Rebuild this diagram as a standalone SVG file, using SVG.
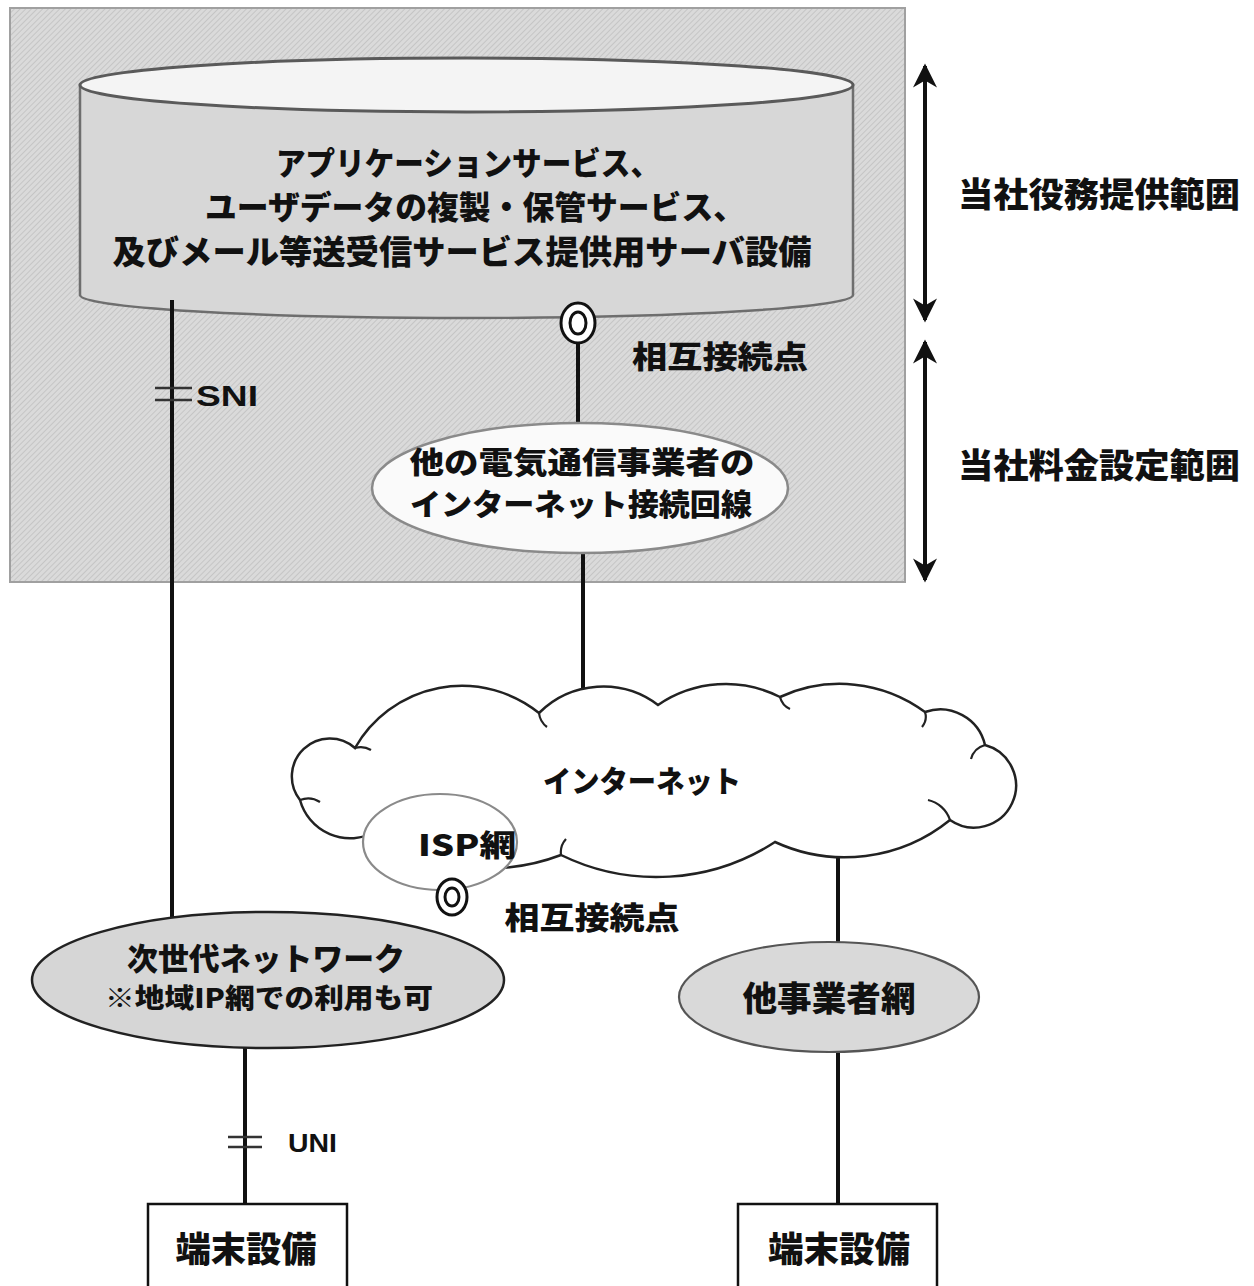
<svg xmlns="http://www.w3.org/2000/svg" width="1254" height="1286" viewBox="0 0 1254 1286">
<defs>
<pattern id="hatch" width="4" height="4" patternUnits="userSpaceOnUse" patternTransform="rotate(45)">
<rect width="4" height="4" fill="#dadada"/>
<line x1="0" y1="0" x2="0" y2="4" stroke="#bcbcbc" stroke-width="1.4"/>
</pattern>
<marker id="ah" viewBox="0 0 10 10" refX="9" refY="5" markerUnits="userSpaceOnUse" markerWidth="26" markerHeight="24" orient="auto-start-reverse">
<path d="M0,0 L10,5 L0,10 L3,5 Z" fill="#111"/>
</marker>
<style>
.t{font-family:"Noto Sans CJK JP","Noto Sans CJK SC",sans-serif;font-weight:900;fill:#111;text-anchor:middle}
.l{font-family:"Liberation Sans",Arial,sans-serif;font-weight:bold;fill:#111}
.ln{stroke:#111;stroke-width:4;fill:none}
.tick{stroke:#333;stroke-width:2.5}
.cp{fill:#fff;stroke:#111;stroke-width:3}
.box{fill:#fff;stroke:#111;stroke-width:2.5}
</style>
</defs>

<g id="scope-area">
<rect x="10" y="8" width="895" height="574" fill="url(#hatch)" stroke="#a0a0a0" stroke-width="2"/>
</g>

<g id="server">
<path d="M80,85 V295 A386.5,23 0 0 0 853,295 V85 Z" fill="#d7d7d7" stroke="#6e6e6e" stroke-width="2.5"/>
<ellipse cx="466.5" cy="85" rx="386.5" ry="27" fill="#f4f4f4" stroke="#5a5a5a" stroke-width="3"/>
<text class="t" x="468" y="175" font-size="32" textLength="384" lengthAdjust="spacingAndGlyphs">アプリケーションサービス、</text>
<text class="t" x="475" y="219" font-size="32" textLength="540" lengthAdjust="spacingAndGlyphs">ユーザデータの複製・保管サービス、</text>
<text class="t" x="462" y="264" font-size="33" textLength="699" lengthAdjust="spacingAndGlyphs">及びメール等送受信サービス提供用サーバ設備</text>
</g>

<g id="connectors">
<line class="ln" x1="172" y1="300" x2="172" y2="918"/>
<line class="tick" x1="155" y1="388" x2="192" y2="388"/>
<line class="tick" x1="155" y1="400" x2="192" y2="400"/>
<line class="ln" x1="578" y1="340" x2="578" y2="425"/>
<line class="ln" x1="583" y1="552" x2="583" y2="688"/>
<line class="ln" x1="838" y1="846" x2="838" y2="945"/>
<line class="ln" x1="838" y1="1050" x2="838" y2="1204"/>
<line class="ln" x1="245" y1="1046" x2="245" y2="1204"/>
<line class="tick" x1="228" y1="1137" x2="262" y2="1137"/>
<line class="tick" x1="228" y1="1147" x2="262" y2="1147"/>
<line stroke="#111" stroke-width="4" x1="925" y1="66" x2="925" y2="320" marker-start="url(#ah)" marker-end="url(#ah)"/>
<line stroke="#111" stroke-width="4" x1="925" y1="342" x2="925" y2="580" marker-start="url(#ah)" marker-end="url(#ah)"/>
</g>

<g id="label-sni"><text class="l" x="196" y="406" font-size="29" textLength="62" lengthAdjust="spacingAndGlyphs">SNI</text></g>
<g id="label-uni"><text class="l" x="288" y="1152" font-size="26" textLength="49" lengthAdjust="spacingAndGlyphs">UNI</text></g>

<g id="scope-labels">
<text class="t" x="1099" y="207" font-size="34" textLength="282" lengthAdjust="spacingAndGlyphs">当社役務提供範囲</text>
<text class="t" x="1099" y="478" font-size="34" textLength="282" lengthAdjust="spacingAndGlyphs">当社料金設定範囲</text>
</g>

<g id="cp-upper">
<ellipse class="cp" cx="578" cy="323" rx="17" ry="20"/>
<ellipse class="cp" cx="578" cy="323" rx="8" ry="11"/>
<text class="t" x="720" y="368" font-size="31" textLength="176" lengthAdjust="spacingAndGlyphs">相互接続点</text>
</g>

<g id="other-carrier-line">
<ellipse cx="580" cy="488" rx="208" ry="65" fill="#fafafa" stroke="#8a8a8a" stroke-width="2.5"/>
<text class="t" x="582" y="473" font-size="30" textLength="345" lengthAdjust="spacingAndGlyphs">他の電気通信事業者の</text>
<text class="t" x="581" y="515" font-size="30" textLength="342" lengthAdjust="spacingAndGlyphs">インターネット接続回線</text>
</g>

<g id="internet">
<path d="M355,748 A123,123 0 0 1 539,713 A91,91 0 0 1 658,705 A120,120 0 0 1 780,697 A143,143 0 0 1 925,712 A46,46 0 0 1 985,745 A42,42 0 1 1 950,820 A167,167 0 0 1 775,842 A218,218 0 0 1 561,855 A200,200 0 0 1 375,832 A52,52 0 0 1 300,800 A38,38 0 0 1 355,748 Z" fill="#fff" stroke="#222" stroke-width="2.5"/>
<path d="M539,713 a20,20 0 0 0 8,14 M780,697 a18,18 0 0 0 10,12 M925,712 a16,16 0 0 1 -3,15 M985,745 a20,20 0 0 0 -14,14 M950,820 a30,30 0 0 0 -22,-20 M561,855 a20,20 0 0 1 5,-16 M355,748 a20,20 0 0 1 16,2 M300,800 a22,22 0 0 1 20,2" fill="none" stroke="#222" stroke-width="2.2"/>
<text class="t" x="642" y="792" font-size="30" textLength="198" lengthAdjust="spacingAndGlyphs">インターネット</text>
</g>

<g id="isp">
<ellipse cx="440" cy="842" rx="77" ry="48" fill="#fff" stroke="#8a8a8a" stroke-width="2.2"/>
<text class="t" x="467" y="856" font-size="30" textLength="98" lengthAdjust="spacingAndGlyphs">ISP網</text>
</g>

<g id="ngn">
<ellipse cx="268" cy="980" rx="236" ry="68" fill="#d6d6d6" stroke="#222" stroke-width="2.5"/>
<text class="t" x="266" y="970" font-size="31" textLength="278" lengthAdjust="spacingAndGlyphs">次世代ネットワーク</text>
<text class="t" x="269" y="1008" font-size="27" textLength="328" lengthAdjust="spacingAndGlyphs">※地域IP網での利用も可</text>
</g>

<g id="cp-lower">
<ellipse class="cp" cx="452" cy="897" rx="15" ry="18"/>
<ellipse class="cp" cx="452" cy="897" rx="7" ry="9"/>
<text class="t" x="592" y="929" font-size="31" textLength="175" lengthAdjust="spacingAndGlyphs">相互接続点</text>
</g>

<g id="other-net">
<ellipse cx="829" cy="997" rx="150" ry="55" fill="#d9d9d9" stroke="#555" stroke-width="2.2"/>
<text class="t" x="829" y="1011" font-size="34" textLength="173" lengthAdjust="spacingAndGlyphs">他事業者網</text>
</g>

<g id="terminal-left">
<rect class="box" x="148" y="1204" width="199" height="90"/>
<text class="t" x="246" y="1262" font-size="35" textLength="141" lengthAdjust="spacingAndGlyphs">端末設備</text>
</g>

<g id="terminal-right">
<rect class="box" x="738" y="1204" width="199" height="90"/>
<text class="t" x="839" y="1262" font-size="35" textLength="142" lengthAdjust="spacingAndGlyphs">端末設備</text>
</g>
</svg>
